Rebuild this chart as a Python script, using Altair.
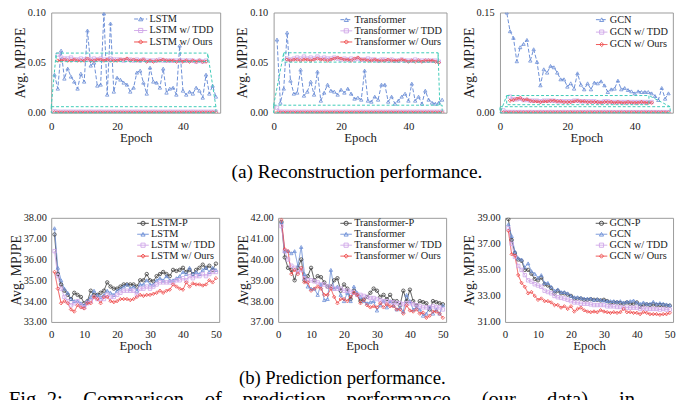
import altair as alt
import pandas as pd

FONT = "Liberation Serif"
GRAY = "#9a9a9a"
BLUE = "#6B8ED6"
LAV = "#CFA6E8"
RED = "#EE4646"
DARK = "#3C3C3C"
CYAN = "#3CCBB8"
INK = "#1a1a1a"

EPOCHS = list(range(1, 51))

# ---------------- (a) Reconstruction ----------------
lstm_rec = [0.038, 0.024, 0.062, 0.034, 0.044, 0.036, 0.031, 0.024, 0.039, 0.031,
            0.082, 0.047, 0.050, 0.027, 0.028, 0.099, 0.018, 0.089, 0.021, 0.035,
            0.033, 0.030, 0.028, 0.021, 0.025, 0.040, 0.042, 0.030, 0.019, 0.045,
            0.031, 0.030, 0.025, 0.044, 0.020, 0.024, 0.025, 0.018, 0.067, 0.022,
            0.018, 0.021, 0.019, 0.025, 0.022, 0.015, 0.038, 0.019, 0.027, 0.016]
lstm_tdd_rec = [0.0013, 0.0010, 0.0009, 0.0010, 0.0009, 0.0010, 0.0009, 0.0009, 0.0010, 0.0009,
                0.0009, 0.0010, 0.0009, 0.0009, 0.0010, 0.0009, 0.0009, 0.0009, 0.0010, 0.0009,
                0.0009, 0.0010, 0.0009, 0.0009, 0.0009, 0.0010, 0.0009, 0.0009, 0.0009, 0.0009,
                0.0010, 0.0009, 0.0009, 0.0009, 0.0009, 0.0010, 0.0009, 0.0009, 0.0009, 0.0009,
                0.0009, 0.0009, 0.0010, 0.0009, 0.0009, 0.0009, 0.0009, 0.0009, 0.0009, 0.0009]
lstm_ours_rec = [0.0004, 0.0003, 0.0003, 0.0003, 0.0003, 0.0003, 0.0003, 0.0003, 0.0003, 0.0003,
                 0.0003, 0.0003, 0.0003, 0.0003, 0.0003, 0.0003, 0.0003, 0.0003, 0.0003, 0.0003,
                 0.0003, 0.0003, 0.0003, 0.0003, 0.0003, 0.0003, 0.0003, 0.0003, 0.0003, 0.0003,
                 0.0003, 0.0003, 0.0003, 0.0003, 0.0003, 0.0003, 0.0003, 0.0003, 0.0003, 0.0003,
                 0.0003, 0.0003, 0.0003, 0.0003, 0.0003, 0.0003, 0.0003, 0.0003, 0.0003, 0.0003]
lstm_zoom_epochs = list(range(2, 48))
lstm_tdd_zoom = [0.058, 0.055, 0.054, 0.054, 0.055, 0.053, 0.053, 0.054, 0.053, 0.053,
                 0.053, 0.054, 0.053, 0.054, 0.053, 0.053, 0.054, 0.053, 0.053, 0.053,
                 0.052, 0.053, 0.053, 0.052, 0.053, 0.052, 0.053, 0.052, 0.052, 0.052,
                 0.052, 0.053, 0.052, 0.052, 0.052, 0.052, 0.052, 0.052, 0.052, 0.052,
                 0.052, 0.052, 0.051, 0.052, 0.051, 0.052]
lstm_ours_zoom = [0.052, 0.052, 0.053, 0.052, 0.052, 0.053, 0.052, 0.052, 0.052, 0.054,
                  0.052, 0.052, 0.053, 0.053, 0.052, 0.053, 0.052, 0.052, 0.052, 0.053,
                  0.053, 0.054, 0.052, 0.053, 0.052, 0.052, 0.053, 0.051, 0.052, 0.051,
                  0.052, 0.052, 0.053, 0.052, 0.052, 0.052, 0.051, 0.052, 0.051, 0.052,
                  0.051, 0.052, 0.051, 0.052, 0.051, 0.051]

trans_rec = [0.073, 0.010, 0.024, 0.080, 0.032, 0.019, 0.020, 0.043, 0.017, 0.021,
             0.031, 0.018, 0.041, 0.012, 0.020, 0.028, 0.022, 0.021, 0.018, 0.023,
             0.020, 0.024, 0.019, 0.014, 0.015, 0.013, 0.042, 0.012, 0.011, 0.016,
             0.013, 0.028, 0.028, 0.011, 0.016, 0.009, 0.012, 0.016, 0.019, 0.012,
             0.029, 0.012, 0.016, 0.009, 0.022, 0.013, 0.010, 0.009, 0.010, 0.013]
trans_tdd_rec = [0.0050, 0.0011, 0.0010, 0.0010, 0.0009, 0.0010, 0.0009, 0.0009, 0.0010, 0.0009,
                 0.0009, 0.0010, 0.0009, 0.0009, 0.0010, 0.0009, 0.0009, 0.0009, 0.0010, 0.0009,
                 0.0009, 0.0010, 0.0009, 0.0009, 0.0009, 0.0010, 0.0009, 0.0009, 0.0009, 0.0009,
                 0.0010, 0.0009, 0.0009, 0.0009, 0.0009, 0.0010, 0.0009, 0.0009, 0.0009, 0.0009,
                 0.0009, 0.0009, 0.0010, 0.0009, 0.0009, 0.0009, 0.0009, 0.0009, 0.0009, 0.0009]
trans_ours_rec = [0.0004, 0.0003, 0.0003, 0.0003, 0.0003, 0.0003, 0.0003, 0.0003, 0.0003, 0.0003,
                  0.0003, 0.0003, 0.0003, 0.0003, 0.0003, 0.0003, 0.0003, 0.0003, 0.0003, 0.0003,
                  0.0003, 0.0003, 0.0003, 0.0003, 0.0003, 0.0003, 0.0003, 0.0003, 0.0003, 0.0003,
                  0.0003, 0.0003, 0.0003, 0.0003, 0.0003, 0.0003, 0.0003, 0.0003, 0.0003, 0.0003,
                  0.0003, 0.0003, 0.0003, 0.0003, 0.0003, 0.0003, 0.0003, 0.0003, 0.0003, 0.0003]
trans_zoom_epochs = list(range(4, 50))
trans_tdd_zoom = [0.054, 0.053, 0.054, 0.055, 0.054, 0.056, 0.054, 0.055, 0.054, 0.056,
                  0.054, 0.055, 0.054, 0.054, 0.055, 0.054, 0.053, 0.054, 0.053, 0.054,
                  0.053, 0.054, 0.053, 0.053, 0.054, 0.053, 0.053, 0.052, 0.053, 0.053,
                  0.052, 0.053, 0.052, 0.052, 0.053, 0.052, 0.052, 0.052, 0.053, 0.052,
                  0.052, 0.052, 0.052, 0.052, 0.052, 0.051]
trans_ours_zoom = [0.053, 0.052, 0.053, 0.053, 0.052, 0.053, 0.053, 0.052, 0.053, 0.054,
                   0.053, 0.053, 0.052, 0.053, 0.054, 0.055, 0.054, 0.053, 0.053, 0.052,
                   0.054, 0.055, 0.053, 0.053, 0.052, 0.052, 0.053, 0.052, 0.052, 0.052,
                   0.053, 0.052, 0.052, 0.052, 0.053, 0.052, 0.051, 0.052, 0.051, 0.052,
                   0.051, 0.052, 0.052, 0.052, 0.051, 0.050]

gcn_rec = [0.210, 0.150, 0.122, 0.112, 0.077, 0.098, 0.103, 0.109, 0.078, 0.095,
           0.076, 0.041, 0.065, 0.060, 0.070, 0.068, 0.060, 0.050, 0.050, 0.039,
           0.044, 0.036, 0.059, 0.042, 0.035, 0.044, 0.035, 0.045, 0.044, 0.047,
           0.041, 0.031, 0.035, 0.036, 0.048, 0.035, 0.037, 0.034, 0.032, 0.029,
           0.032, 0.031, 0.031, 0.031, 0.029, 0.025, 0.019, 0.037, 0.021, 0.029]
gcn_tdd_rec = [0.0033, 0.0011, 0.0010, 0.0010, 0.0009, 0.0010, 0.0009, 0.0009, 0.0010, 0.0009,
               0.0009, 0.0010, 0.0009, 0.0009, 0.0010, 0.0009, 0.0009, 0.0009, 0.0010, 0.0009,
               0.0009, 0.0010, 0.0009, 0.0009, 0.0009, 0.0010, 0.0009, 0.0009, 0.0009, 0.0009,
               0.0010, 0.0009, 0.0009, 0.0009, 0.0009, 0.0010, 0.0009, 0.0009, 0.0009, 0.0009,
               0.0009, 0.0009, 0.0010, 0.0009, 0.0009, 0.0009, 0.0009, 0.0009, 0.0009, 0.0009]
gcn_ours_rec = [0.0005, 0.0004, 0.0004, 0.0004, 0.0004, 0.0004, 0.0004, 0.0004, 0.0004, 0.0004,
                0.0004, 0.0004, 0.0004, 0.0004, 0.0004, 0.0004, 0.0004, 0.0004, 0.0004, 0.0004,
                0.0004, 0.0004, 0.0004, 0.0004, 0.0004, 0.0004, 0.0004, 0.0004, 0.0004, 0.0004,
                0.0004, 0.0004, 0.0004, 0.0004, 0.0004, 0.0004, 0.0004, 0.0004, 0.0004, 0.0004,
                0.0004, 0.0004, 0.0004, 0.0004, 0.0004, 0.0004, 0.0004, 0.0004, 0.0004, 0.0004]
gcn_zoom_epochs = list(range(3, 46))
gcn_tdd_zoom = [0.024, 0.020, 0.020, 0.021, 0.019, 0.019, 0.018, 0.018, 0.018, 0.017,
                0.018, 0.018, 0.018, 0.018, 0.017, 0.017, 0.017, 0.017, 0.017, 0.018,
                0.018, 0.017, 0.017, 0.017, 0.017, 0.017, 0.016, 0.016, 0.017, 0.017,
                0.016, 0.016, 0.016, 0.016, 0.016, 0.016, 0.016, 0.016, 0.016, 0.016,
                0.016, 0.016, 0.016]
gcn_ours_zoom = [0.018, 0.019, 0.021, 0.022, 0.019, 0.020, 0.018, 0.017, 0.017, 0.016,
                 0.017, 0.017, 0.018, 0.018, 0.017, 0.017, 0.016, 0.016, 0.016, 0.017,
                 0.018, 0.017, 0.017, 0.016, 0.016, 0.016, 0.016, 0.015, 0.016, 0.016,
                 0.016, 0.015, 0.016, 0.015, 0.015, 0.016, 0.015, 0.015, 0.015, 0.016,
                 0.015, 0.015, 0.015]

# zoom-in annotation boxes (data units): source strip, magnified box, connectors
lstm_src = [0, 50, 0.0, 0.006]
lstm_box = [1.5, 47.5, 0.051, 0.0595]
lstm_links = [[0, 0.006, 1.5, 0.0595], [50, 0.006, 47.5, 0.0595]]
trans_src = [0, 50, 0.0, 0.0075]
trans_box = [3.0, 48.8, 0.0505, 0.0598]
trans_links = [[0, 0.0075, 3.0, 0.0598], [49.3, 0.0075, 48.8, 0.0598]]
gcn_src = [0, 50.5, 0.0, 0.009]
gcn_box = [2.0, 44.2, 0.012, 0.0257]
gcn_links = [[0.3, 0.003, 2.0, 0.0257], [50.5, 0.009, 44.2, 0.0257]]

# ---------------- (b) Prediction ----------------
lstm_p = [37.2, 35.3, 34.8, 34.5, 34.3, 34.1, 34.4, 34.3, 34.2, 33.9,
          34.0, 34.5, 34.3, 34.3, 34.4, 34.5, 34.9, 34.7, 34.6, 34.6,
          34.7, 34.8, 34.8, 34.8, 34.8, 34.7, 35.0, 35.0, 35.3, 35.0,
          34.95, 35.2, 35.3, 35.4, 35.3, 35.2, 35.5, 35.45, 35.5, 35.6,
          35.4, 35.5, 35.3, 35.5, 35.6, 35.75, 35.6, 35.7, 35.5, 35.8]
lstm_b = [37.5, 35.6, 35.0, 34.6, 34.4, 34.1, 34.0, 34.0, 33.9, 33.8,
          34.0, 34.2, 34.5, 34.3, 34.2, 34.3, 34.5, 34.4, 34.3, 34.5,
          34.6, 34.7, 34.8, 34.6, 34.7, 34.5, 34.8, 34.8, 35.0, 34.8,
          34.8, 35.0, 35.1, 35.0, 35.2, 35.0, 35.0, 35.1, 35.2, 35.4,
          35.3, 35.6, 35.3, 35.4, 35.3, 35.5, 35.6, 35.4, 35.6, 35.5]
lstm_t = [36.4, 35.2, 34.6, 34.2, 34.0, 33.8, 33.9, 34.0, 33.8, 33.7,
          33.9, 34.0, 34.2, 34.1, 34.1, 34.1, 34.3, 34.2, 34.2, 34.3,
          34.4, 34.5, 34.5, 34.5, 34.5, 34.3, 34.6, 34.6, 34.7, 34.6,
          34.7, 34.8, 34.9, 34.9, 34.9, 34.9, 34.9, 35.0, 35.0, 35.1,
          35.0, 35.2, 35.1, 35.2, 35.2, 35.3, 35.2, 35.3, 35.4, 35.4]
lstm_o = [35.4, 34.6, 33.9, 34.0, 33.9, 33.6, 33.5, 33.8, 33.7, 33.65,
          33.9, 33.9, 34.2, 34.1, 33.9, 34.2, 34.2, 34.0, 33.95, 34.0,
          34.1, 34.1, 34.1, 34.05, 34.1, 34.2, 34.3, 34.25, 34.3, 34.3,
          34.35, 34.4, 34.5, 34.4, 34.5, 34.55, 34.8, 34.7, 34.6, 34.55,
          34.9, 34.7, 34.85, 34.8, 34.8, 34.75, 34.8, 35.0, 34.9, 35.1]

trans_p = [41.8, 40.1, 39.6, 39.5, 39.0, 39.6, 40.0, 39.0, 39.2, 39.6,
           39.0, 39.2, 39.15, 38.9, 38.7, 38.7, 39.0, 39.1, 38.5, 38.8,
           38.6, 38.1, 38.5, 38.3, 38.0, 38.1, 38.2, 38.4, 38.6, 38.5,
           38.2, 38.3, 38.1, 38.3, 38.0, 38.0, 37.8, 38.5, 38.0, 38.55,
           38.0, 37.8, 38.0, 37.95, 37.9, 37.6, 38.0, 37.95, 37.9, 37.85]
trans_b = [41.8, 40.4, 40.4, 40.3, 40.4, 39.7, 40.6, 39.3, 38.7, 38.6,
           38.6, 38.3, 38.8, 38.05, 38.1, 39.5, 38.6, 38.7, 38.3, 38.0,
           38.4, 38.0, 38.7, 38.4, 38.2, 38.0, 37.9, 37.95, 38.0, 37.55,
           37.8, 38.0, 37.7, 38.0, 37.8, 37.6, 37.7, 37.5, 38.3, 38.0,
           37.6, 37.7, 37.6, 37.3, 37.4, 37.7, 37.4, 37.6, 37.4, 37.8]
trans_t = [41.6, 40.4, 40.0, 39.7, 39.6, 39.4, 39.5, 39.1, 39.0, 39.0,
           38.95, 38.9, 38.8, 38.8, 38.7, 38.7, 38.6, 38.6, 38.6, 38.5,
           38.5, 38.45, 38.4, 38.3, 38.3, 38.25, 38.2, 38.15, 38.15, 38.1,
           38.05, 38.0, 38.0, 37.95, 37.95, 37.9, 37.9, 37.85, 37.9, 37.9,
           37.85, 37.8, 37.75, 37.7, 37.7, 37.7, 37.75, 37.7, 37.7, 37.6]
trans_o = [41.9, 40.5, 40.4, 39.3, 39.5, 39.3, 39.6, 38.9, 38.9, 38.5,
           38.6, 38.7, 38.6, 38.3, 38.3, 38.6, 38.2, 37.9, 38.1, 38.1,
           38.0, 38.2, 38.4, 38.3, 37.9, 38.05, 37.8, 37.7, 37.75, 37.7,
           37.9, 37.7, 37.85, 37.75, 37.75, 37.6, 37.6, 37.4, 37.8, 37.55,
           37.5, 37.6, 37.4, 37.45, 37.2, 37.3, 37.5, 37.5, 37.4, 37.2]

gcn_p = [38.9, 37.3, 36.3, 35.8, 35.7, 35.0, 35.0, 34.7, 34.3, 34.2,
         34.4, 33.9, 33.8, 33.6, 33.2, 33.4, 33.2, 33.2, 33.1, 33.0,
         32.8, 32.8, 32.8, 32.7, 32.7, 32.75, 32.7, 32.7, 32.65, 32.7,
         32.6, 32.45, 32.5, 32.5, 32.45, 32.4, 32.5, 32.4, 32.4, 32.5,
         32.2, 32.3, 32.35, 32.3, 32.35, 32.3, 32.3, 32.3, 32.25, 32.25]
gcn_b = [38.5, 37.6, 36.4, 35.9, 35.8, 35.2, 35.5, 34.9, 34.7, 34.4,
         34.6, 34.0, 34.0, 33.7, 33.4, 33.5, 33.3, 33.3, 33.2, 33.0,
         32.9, 32.9, 32.85, 32.8, 32.8, 32.8, 32.7, 32.75, 32.7, 32.65,
         32.6, 32.6, 32.6, 32.55, 32.6, 32.5, 32.55, 32.6, 32.65, 32.5,
         32.4, 32.5, 32.4, 32.4, 32.55, 32.4, 32.45, 32.4, 32.35, 32.3]
gcn_t = [38.2, 37.0, 36.0, 35.3, 35.0, 34.6, 34.2, 34.1, 33.9, 33.8,
         33.7, 33.4, 33.3, 33.2, 33.0, 32.9, 32.85, 32.8, 32.7, 32.6,
         32.5, 32.5, 32.4, 32.4, 32.4, 32.35, 32.3, 32.3, 32.3, 32.3,
         32.2, 32.2, 32.2, 32.15, 32.15, 32.1, 32.1, 32.1, 32.1, 32.1,
         32.0, 32.05, 32.0, 32.0, 32.0, 32.0, 31.95, 32.0, 31.95, 31.95]
gcn_o = [38.0, 36.2, 36.1, 34.6, 34.0, 33.7, 33.2, 33.3, 33.0, 32.7,
         32.8, 32.6, 32.6, 32.5, 32.3, 32.3, 32.1, 32.2, 32.0, 32.2,
         31.8, 32.0, 32.1, 31.9, 31.8, 31.75, 31.8, 31.75, 31.9, 31.8,
         31.75, 31.7, 31.75, 31.7, 31.75, 32.0, 31.75, 31.75, 31.7, 31.7,
         31.6, 31.75, 31.7, 31.6, 31.6, 31.6, 31.55, 31.6, 31.6, 31.7]

CAPTION_A = "(a) Reconstruction performance."
CAPTION_B = "(b) Prediction performance."
SP4 = "\u00a0" * 4
SP6 = "\u00a0" * 6
FIG_TEXT = ("Fig.\u00a02:" + SP4 + "Comparison" + SP4 + "of" + SP4 + "prediction" + SP4 +
            "performance" + SP6 + "(our" + SP6 + "data)" + SP6 + "in")

TOP_H = 102
BOT_W, BOT_H = 171, 106
XMAX_TOP, XMAX_BOT = 51.3, 51.0


def x_axis(label_pad):
    return alt.Axis(values=[0, 10, 20, 30, 40, 50], title="Epoch", ticks=False, grid=False,
                    domain=False, labelFont=FONT, labelFontSize=11, labelColor=INK,
                    labelFontWeight="normal",
                    titleFont=FONT, titleFontSize=13, titleFontWeight="normal", titleColor=INK,
                    labelPadding=label_pad, titlePadding=0, labelFlush=False)


def y_axis(vals, label_pad, title_pad):
    return alt.Axis(values=vals, format=".2f", title="Avg. MPJPE", ticks=False, grid=False,
                    domain=False, labelFont=FONT, labelFontSize=10.5, labelColor=INK,
                    labelFontWeight="normal",
                    titleFont=FONT, titleFontSize=14, titleFontWeight="normal", titleColor=INK,
                    labelPadding=label_pad, titlePadding=title_pad, labelFlush=False)


def legend_layer(names, line_x, text_x, y_range):
    n = len(names)
    leg = pd.DataFrame({"series": names, "row": list(range(n))})
    ysc = alt.Y("row:Q", axis=None, scale=alt.Scale(domain=[0, n - 1], range=y_range, nice=False, zero=False))
    base = alt.Chart(leg)
    rule = base.mark_rule(strokeWidth=1).encode(
        x=alt.value(line_x[0]), x2=alt.value(line_x[1]), y=ysc,
        color=alt.Color("series:N", legend=None), strokeDash=alt.StrokeDash("series:N", legend=None))
    pt = base.mark_point(filled=False, size=18, strokeWidth=0.9, opacity=1).encode(
        x=alt.value((line_x[0] + line_x[1]) / 2), y=ysc,
        color=alt.Color("series:N", legend=None), shape=alt.Shape("series:N", legend=None))
    txt = base.mark_text(align="left", baseline="middle", font=FONT, fontSize=10.5,
                         fontWeight="normal", color=INK).encode(
        x=alt.value(text_x), y=ysc, text="series:N")
    return alt.layer(rule, pt, txt)


def encs(names, colors, shapes, dashes):
    c = alt.Color("series:N", scale=alt.Scale(domain=names, range=colors), legend=None)
    s = alt.Shape("series:N", scale=alt.Scale(domain=names, range=shapes), legend=None)
    d = alt.StrokeDash("series:N", scale=alt.Scale(domain=names, range=dashes), legend=None)
    return c, s, d


def rec_panel(base_name, base_vals, tdd_vals, ours_vals, zoom_ep, tdd_zoom, ours_zoom,
              src, box, links, ymax, yvals, leg_line, leg_text, leg_y, width):
    names = [base_name, base_name + " w/ TDD", base_name + " w/ Ours"]
    rows = []
    for name, vals in zip(names, [base_vals, tdd_vals, ours_vals]):
        for e, v in zip(EPOCHS, vals):
            rows.append({"epoch": e, "value": v, "series": name, "part": "main"})
    for name, vals in zip(names[1:], [tdd_zoom, ours_zoom]):
        for e, v in zip(zoom_ep, vals):
            rows.append({"epoch": e, "value": v, "series": name, "part": "zoom"})
    df = pd.DataFrame(rows)
    c, s, d = encs(names, [BLUE, LAV, RED], ["triangle-up", "square", "diamond"],
                   [[4, 2], [1, 0], [1, 0]])
    xs = alt.Scale(domain=[0, XMAX_TOP], nice=False, zero=False)
    ys = alt.Scale(domain=[0, ymax], nice=False)
    X = alt.X("epoch:Q", scale=xs, axis=x_axis(8))
    Y = alt.Y("value:Q", scale=ys, axis=y_axis(yvals, 6, 0))
    boxes = pd.DataFrame({"x": [src[0], box[0]], "x2": [src[1], box[1]],
                          "y": [src[2], box[2]], "y2": [src[3], box[3]]})
    lk = pd.DataFrame(links, columns=["x", "y", "x2", "y2"])
    rect = alt.Chart(boxes).mark_rect(filled=False, stroke=CYAN, strokeDash=[3, 2], strokeWidth=1).encode(
        x=alt.X("x:Q", scale=xs), x2="x2:Q", y=alt.Y("y:Q", scale=ys), y2="y2:Q")
    conn = alt.Chart(lk).mark_rule(stroke=CYAN, strokeDash=[3, 2], strokeWidth=1).encode(
        x=alt.X("x:Q", scale=xs), x2="x2:Q", y=alt.Y("y:Q", scale=ys), y2="y2:Q")
    line = alt.Chart(df).mark_line(strokeWidth=1, clip=True).encode(
        x=X, y=Y, color=c, strokeDash=d, detail="part:N")
    pts = alt.Chart(df).mark_point(filled=False, size=12, strokeWidth=0.8, opacity=1, clip=True).encode(
        x=X, y=Y, color=c, shape=s)
    data_layer = alt.layer(line, pts, rect, conn)
    return alt.layer(data_layer, legend_layer(names, leg_line, leg_text, leg_y)).resolve_scale(
        y="independent").properties(width=width, height=TOP_H)


def pred_panel(base_name, p_vals, b_vals, t_vals, o_vals, ymin, ymax, yvals, leg_line, leg_text, leg_y):
    names = [base_name + "-P", base_name, base_name + " w/ TDD", base_name + " w/ Ours"]
    rows = []
    for name, vals in zip(names, [p_vals, b_vals, t_vals, o_vals]):
        for e, v in zip(EPOCHS, vals):
            rows.append({"epoch": e, "value": v, "series": name})
    df = pd.DataFrame(rows)
    c, s, d = encs(names, [DARK, BLUE, LAV, RED], ["circle", "triangle-up", "square", "diamond"],
                   [[1, 0], [1, 0], [1, 0], [1, 0]])
    X = alt.X("epoch:Q", scale=alt.Scale(domain=[0, XMAX_BOT], nice=False, zero=False), axis=x_axis(7))
    Y = alt.Y("value:Q", scale=alt.Scale(domain=[ymin, ymax], nice=False, zero=False),
              axis=y_axis(yvals, 5, 0))
    line = alt.Chart(df).mark_line(strokeWidth=0.9, clip=True).encode(x=X, y=Y, color=c, strokeDash=d)
    pts = alt.Chart(df).mark_point(filled=False, size=12, strokeWidth=0.8, opacity=1, clip=True).encode(
        x=X, y=Y, color=c, shape=s)
    data_layer = alt.layer(line, pts)
    return alt.layer(data_layer, legend_layer(names, leg_line, leg_text, leg_y)).resolve_scale(
        y="independent").properties(width=BOT_W, height=BOT_H)


p1 = rec_panel("LSTM", lstm_rec, lstm_tdd_rec, lstm_ours_rec, lstm_zoom_epochs, lstm_tdd_zoom,
               lstm_ours_zoom, lstm_src, lstm_box, lstm_links, 0.10, [0, 0.05, 0.10],
               [84.4, 97.7], 100.1, [6.6, 30], 172)
p2 = rec_panel("Transformer", trans_rec, trans_tdd_rec, trans_ours_rec, trans_zoom_epochs,
               trans_tdd_zoom, trans_ours_zoom, trans_src, trans_box, trans_links, 0.10,
               [0, 0.05, 0.10], [68, 80], 82.3, [7.3, 30], 176)
p3 = rec_panel("GCN", gcn_rec, gcn_tdd_rec, gcn_ours_rec, gcn_zoom_epochs, gcn_tdd_zoom,
               gcn_ours_zoom, gcn_src, gcn_box, gcn_links, 0.15, [0, 0.05, 0.10, 0.15],
               [97.7, 109.4], 111.7, [7.3, 32.6], 176)

p4 = pred_panel("LSTM", lstm_p, lstm_b, lstm_t, lstm_o, 33, 38, [33, 34, 35, 36, 37, 38],
                [87.6, 99.3], 101.6, [5.6, 39])
p5 = pred_panel("Transformer", trans_p, trans_b, trans_t, trans_o, 37, 42, [37, 38, 39, 40, 41, 42],
                [63.4, 75], 77.4, [5.6, 39])
p6 = pred_panel("GCN", gcn_p, gcn_b, gcn_t, gcn_o, 31, 39, [31, 33, 35, 37, 39],
                [92.3, 104], 106.3, [5.6, 39])

IND = dict(color="independent", shape="independent", strokeDash="independent")
cap = dict(orient="bottom", anchor="middle", font=FONT, fontWeight="normal", color="black")
row1 = alt.hconcat(p1, p2, p3, spacing=54.4, bounds="flush").resolve_scale(**IND).properties(
    title=alt.TitleParams(CAPTION_A, offset=18, fontSize=19.7, dx=14, **cap))
row2 = alt.hconcat(p4, p5, p6, spacing=60, bounds="flush").resolve_scale(**IND).properties(
    title=alt.TitleParams(CAPTION_B, offset=17, fontSize=19, **cap))

chart = alt.concat(row1, row2, columns=1, spacing=30, align="none").resolve_scale(**IND).properties(
    title=alt.TitleParams(FIG_TEXT, orient="bottom", anchor="start", frame="bounds", font=FONT,
                          fontSize=21, fontWeight="normal", color="black", offset=1),
    padding={"left": 0, "top": -5, "right": 0, "bottom": -6},
).configure(background="white", font=FONT).configure_view(
    stroke=GRAY, strokeWidth=1
).configure_axis(
    labelFont=FONT, titleFont=FONT, titleFontWeight="normal", labelFontWeight="normal"
).configure_text(font=FONT)

chart.save("out.html", embed_options={"renderer": "svg", "actions": False})
